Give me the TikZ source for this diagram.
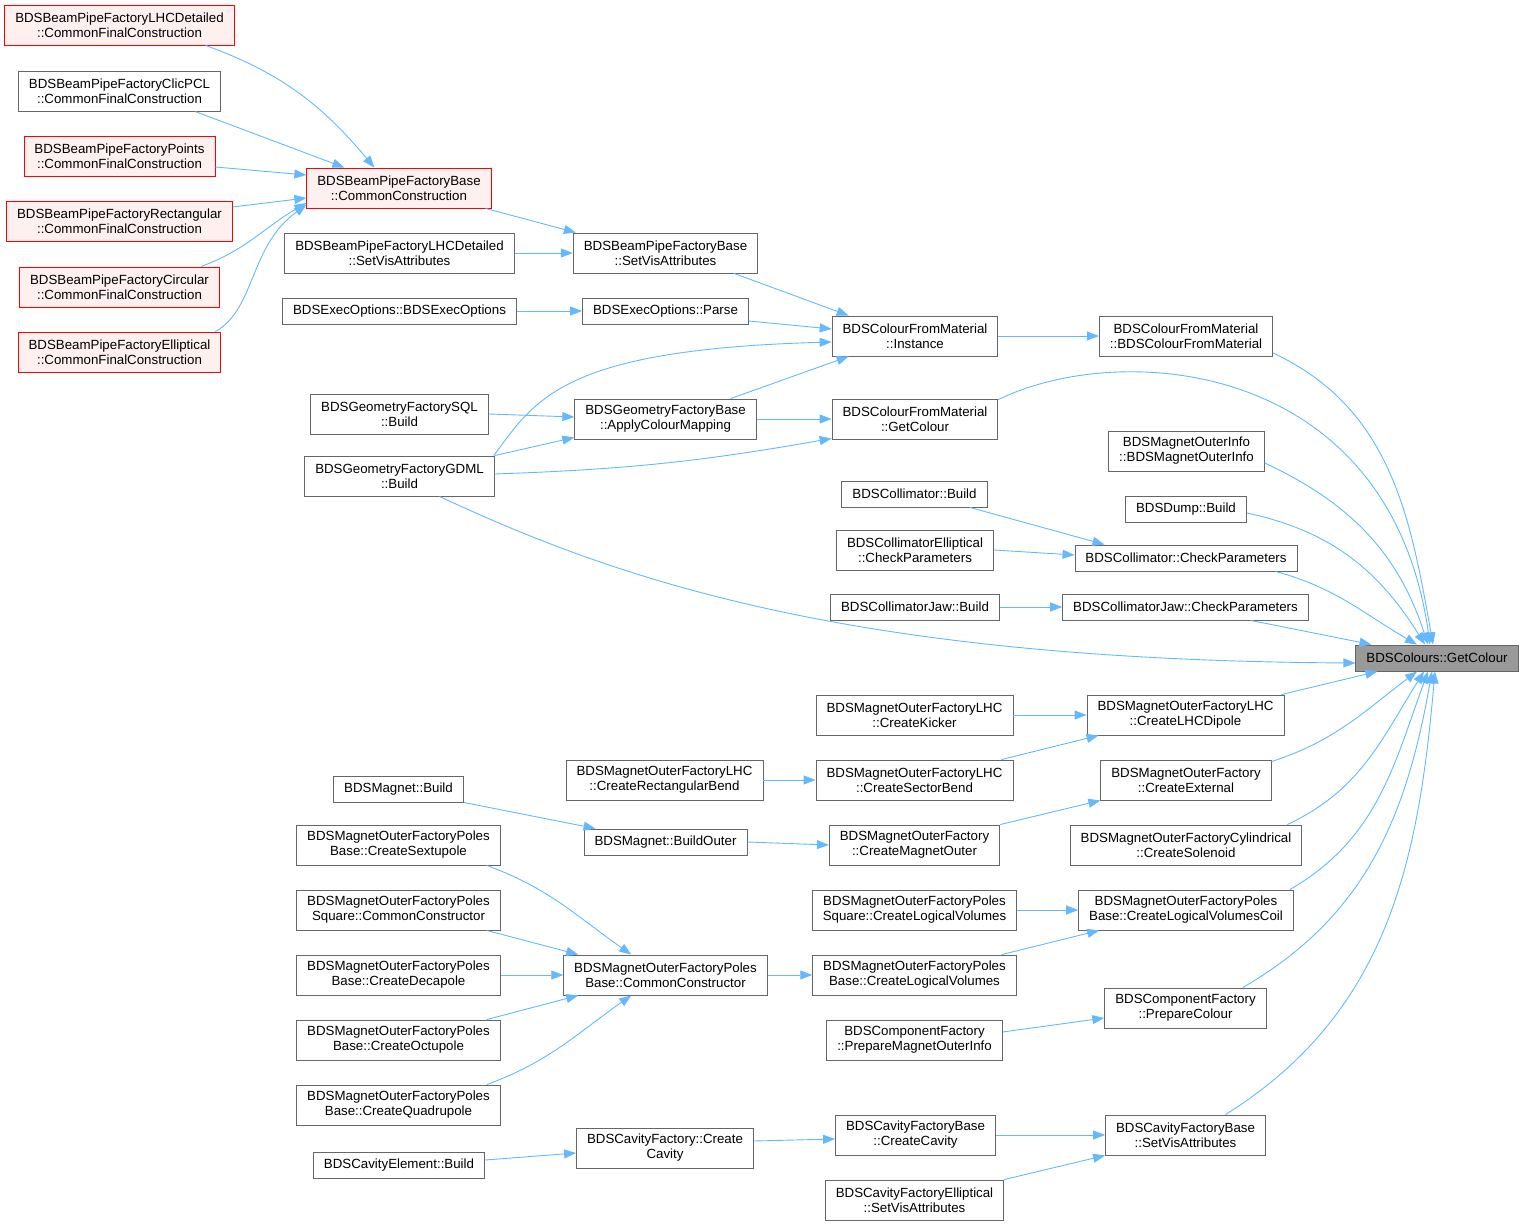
\documentclass[tikz,border=0pt]{standalone}
\usepackage{fontspec}
\setmainfont{Liberation Sans}
\usetikzlibrary{arrows.meta}
\definecolor{edgeblue}{HTML}{63B8FF}
\definecolor{boxgray}{HTML}{666666}
\definecolor{redfill}{HTML}{FFF0F0}
\definecolor{hitgray}{HTML}{999999}
\tikzset{fn/.style={draw=boxgray,fill=white,line width=0.9pt,inner xsep=10.5pt,inner ysep=2pt,minimum height=26pt,align=center,font=\fontsize{13.3}{15}\selectfont}}
\tikzset{tall/.style={minimum height=40pt}}
\tikzset{fnred/.style={fn,tall,draw=red,fill=redfill}}
\tikzset{fnhit/.style={fn,fill=hitgray}}
\begin{document}
\begin{tikzpicture}[x=1pt,y=-1pt,post/.style={-{Triangle[length=12pt,width=9pt]},draw=edgeblue,line width=0.9pt}]
    \useasboundingbox (0,0) rectangle (1524,1226);

    % beam pipe factories
    \node[fnred] (bpLHC) at (119.5,25) {BDSBeamPipeFactoryLHCDetailed\\::CommonFinalConstruction};
    \node[fn,tall] (bpClic) at (119.5,91) {BDSBeamPipeFactoryClicPCL\\::CommonFinalConstruction};
    \node[fnred] (bpPoints) at (119.5,156) {BDSBeamPipeFactoryPoints\\::CommonFinalConstruction};
    \node[fnred] (bpRect) at (119.5,221) {BDSBeamPipeFactoryRectangular\\::CommonFinalConstruction};
    \node[fnred] (bpCirc) at (119.5,287) {BDSBeamPipeFactoryCircular\\::CommonFinalConstruction};
    \node[fnred] (bpEll) at (119.5,352) {BDSBeamPipeFactoryElliptical\\::CommonFinalConstruction};
    \node[fnred] (bpCC) at (399,188) {BDSBeamPipeFactoryBase\\::CommonConstruction};
    \node[fn,tall] (bpLHCVis) at (399.5,253) {BDSBeamPipeFactoryLHCDetailed\\::SetVisAttributes};
    \node[fn,tall] (bpVis) at (665.5,253) {BDSBeamPipeFactoryBase\\::SetVisAttributes};

    % options and geometry
    \node[fn] (execCtor) at (399.5,311) {BDSExecOptions::BDSExecOptions};
    \node[fn] (execParse) at (665.5,311) {BDSExecOptions::Parse};
    \node[fn,tall] (geoSQL) at (399.5,414) {BDSGeometryFactorySQL\\::Build};
    \node[fn,tall] (geoGDML) at (399.5,476) {BDSGeometryFactoryGDML\\::Build};
    \node[fn,tall] (geoApply) at (665.5,419) {BDSGeometryFactoryBase\\::ApplyColourMapping};
    \node[fn,tall] (cfmInst) at (915,336) {BDSColourFromMaterial\\::Instance};
    \node[fn,tall] (cfmGet) at (915,419) {BDSColourFromMaterial\\::GetColour};
    \node[fn,tall] (cfmCtor) at (1186,336) {BDSColourFromMaterial\\::BDSColourFromMaterial};
    \node[fn,tall] (moInfo) at (1186.5,451) {BDSMagnetOuterInfo\\::BDSMagnetOuterInfo};
    \node[fn] (dump) at (1186,509) {BDSDump::Build};

    % collimators
    \node[fn] (collBuild) at (914.5,494) {BDSCollimator::Build};
    \node[fn,tall] (collEll) at (915,550) {BDSCollimatorElliptical\\::CheckParameters};
    \node[fn] (collCheck) at (1186,558) {BDSCollimator::CheckParameters};
    \node[fn] (jawBuild) at (915,607) {BDSCollimatorJaw::Build};
    \node[fn] (jawCheck) at (1185.5,607) {BDSCollimatorJaw::CheckParameters};

    \node[fnhit] (target) at (1437,658) {BDSColours::GetColour};

    % magnets
    \node[fn,tall] (lhcDipole) at (1185.5,715) {BDSMagnetOuterFactoryLHC\\::CreateLHCDipole};
    \node[fn,tall] (lhcKicker) at (914.5,715) {BDSMagnetOuterFactoryLHC\\::CreateKicker};
    \node[fn,tall] (lhcSector) at (914.5,780) {BDSMagnetOuterFactoryLHC\\::CreateSectorBend};
    \node[fn,tall] (lhcRect) at (664.5,780) {BDSMagnetOuterFactoryLHC\\::CreateRectangularBend};
    \node[fn,tall] (moExt) at (1186,780) {BDSMagnetOuterFactory\\::CreateExternal};
    \node[fn,tall] (moOuter) at (914.5,845) {BDSMagnetOuterFactory\\::CreateMagnetOuter};
    \node[fn] (magOuter) at (665.5,842) {BDSMagnet::BuildOuter};
    \node[fn] (magBuild) at (398.5,789) {BDSMagnet::Build};
    \node[fn,tall] (cylSol) at (1186,845) {BDSMagnetOuterFactoryCylindrical\\::CreateSolenoid};
    \node[fn,tall] (polesCoil) at (1186,910) {BDSMagnetOuterFactoryPoles\\Base::CreateLogicalVolumesCoil};
    \node[fn,tall] (sqLV) at (914.5,910) {BDSMagnetOuterFactoryPoles\\Square::CreateLogicalVolumes};
    \node[fn,tall] (polesLV) at (914.5,975) {BDSMagnetOuterFactoryPoles\\Base::CreateLogicalVolumes};
    \node[fn,tall] (polesCC) at (665.5,975) {BDSMagnetOuterFactoryPoles\\Base::CommonConstructor};
    \node[fn,tall] (polesSext) at (398.5,845) {BDSMagnetOuterFactoryPoles\\Base::CreateSextupole};
    \node[fn,tall] (sqCC) at (398.5,910) {BDSMagnetOuterFactoryPoles\\Square::CommonConstructor};
    \node[fn,tall] (polesDec) at (398.5,975) {BDSMagnetOuterFactoryPoles\\Base::CreateDecapole};
    \node[fn,tall] (polesOct) at (398.5,1040) {BDSMagnetOuterFactoryPoles\\Base::CreateOctupole};
    \node[fn,tall] (polesQuad) at (398.5,1105) {BDSMagnetOuterFactoryPoles\\Base::CreateQuadrupole};

    % component and cavity factories
    \node[fn,tall] (cfPrep) at (1185.5,1008) {BDSComponentFactory\\::PrepareColour};
    \node[fn,tall] (cfPrepInfo) at (914.5,1040) {BDSComponentFactory\\::PrepareMagnetOuterInfo};
    \node[fn,tall] (cavVis) at (1185.5,1135) {BDSCavityFactoryBase\\::SetVisAttributes};
    \node[fn,tall] (cavCreate) at (915.5,1135) {BDSCavityFactoryBase\\::CreateCavity};
    \node[fn,tall] (cavEllVis) at (914.5,1200) {BDSCavityFactoryElliptical\\::SetVisAttributes};
    \node[fn,tall] (cavFCreate) at (665,1148) {BDSCavityFactory::Create\\Cavity};
    \node[fn] (cavElBuild) at (399,1165) {BDSCavityElement::Build};

    % upper calls
    \draw[post] ([xshift=-29pt]bpLHC.south east) to[out=-20,in=130] ([xshift=68pt]bpCC.north west);
    \draw[post] ([xshift=-26pt]bpClic.south east) -- ([xshift=38pt]bpCC.north west);
    \draw[post] ([yshift=-11pt]bpPoints.east) -- ([yshift=13pt]bpCC.west);
    \draw[post] ([yshift=14pt]bpRect.east) -- ([yshift=-10pt]bpCC.west);
    \draw[post] ([xshift=-19pt]bpCirc.north east) to[out=20,in=-150] ([yshift=-15pt]bpCC.west);
    \draw[post] ([xshift=-6pt]bpEll.north east) .. controls ([xshift=34pt,yshift=22pt]bpEll.north east) and ([xshift=-57pt,yshift=-37pt]bpCC.south west) .. ([yshift=-17pt]bpCC.west);
    \draw[post] ([xshift=-6pt]bpCC.south east) -- ([xshift=3pt]bpVis.north west);
    \draw[post] (bpLHCVis) -- (bpVis);
    \draw[post] ([xshift=-24pt]bpVis.south east) -- ([xshift=17pt]cfmInst.north west);
    \draw[post] (execCtor) -- (execParse);
    \draw[post] ([yshift=-10pt]execParse.east) -- ([yshift=7pt]cfmInst.west);
    \draw[post] ([xshift=-1pt]geoGDML.north east) .. controls ([xshift=41pt,yshift=56pt]geoGDML.north east) and ([xshift=66pt,yshift=106pt]geoGDML.north east) .. ([yshift=-6pt]cfmInst.west);
    \draw[post] ([xshift=-26pt]geoApply.north east) -- ([xshift=17pt]cfmInst.south west);
    \draw[post] (geoSQL.east) -- ([yshift=2pt]geoApply.west);
    \draw[post] (geoGDML.north east) -- ([yshift=2pt]geoApply.south west);
    \draw[post] (geoApply) -- (cfmGet);
    \draw[post] ([yshift=2pt]geoGDML.east) to[out=2,in=190] ([yshift=1pt]cfmGet.south west);
    \draw[post] (cfmInst) -- (cfmCtor);

    % calls of the colour lookup
    \draw[post] ([yshift=-17pt]cfmCtor.east) to[out=-25,in=100] ([xshift=-4pt]target.north);
    \draw[post] ([yshift=-1pt]cfmGet.north east) .. controls ([xshift=123pt,yshift=59pt]cfmGet.north east) and ([xshift=-47pt,yshift=285pt]target.north) .. ([xshift=-7pt]target.north);
    \draw[post] ([yshift=-12pt]moInfo.east) to[out=-25,in=108] ([xshift=-9pt]target.north);
    \draw[post] ([yshift=-4pt]dump.east) to[out=-12,in=122] ([xshift=-12pt]target.north);
    \draw[post] ([xshift=55.5pt]collBuild.south) -- ([xshift=30pt]collCheck.north west);
    \draw[post] (collEll.east) -- ([yshift=3pt]collCheck.west);
    \draw[post] ([xshift=-22pt]collCheck.south east) to[out=-15,in=150] ([xshift=-20pt]target.north);
    \draw[post] (jawBuild) -- (jawCheck);
    \draw[post] ([xshift=-58pt]jawCheck.south east) -- ([xshift=16pt]target.north west);
    \draw[post] ([xshift=40pt]geoGDML.south) .. controls ([xshift=220pt,yshift=-84pt]geoGDML.south) and ([xshift=-506pt,yshift=-2pt]target.west) .. ([yshift=-5pt]target.west);

    % magnet calls
    \draw[post] ([xshift=-3pt]lhcDipole.north east) -- ([xshift=22pt]target.south west);
    \draw[post] (lhcKicker) -- (lhcDipole);
    \draw[post] ([xshift=-12pt]lhcSector.north east) -- ([xshift=12pt]lhcDipole.south west);
    \draw[post] (lhcRect) -- (lhcSector);
    \draw[post] ([yshift=-2pt]moExt.north east) to[out=18,in=-143] ([xshift=-20pt]target.south);
    \draw[post] (moOuter.north east) -- (moExt.south west);
    \draw[post] (magBuild.south east) -- ([xshift=12pt]magOuter.north west);
    \draw[post] (magOuter.east) -- (moOuter.west);
    \draw[post] ([xshift=-15pt]cylSol.north east) to[out=25,in=-122] ([xshift=-13pt]target.south);
    \draw[post] ([xshift=-4pt]polesCoil.north east) to[out=30,in=-110] ([xshift=-9pt]target.south);
    \draw[post] (sqLV) -- (polesCoil);
    \draw[post] ([xshift=-15pt]polesLV.north east) -- ([xshift=21pt]polesCoil.south west);
    \draw[post] (polesCC) -- (polesLV);
    \draw[post] ([xshift=-14pt]polesSext.south east) to[out=-20,in=145] ([xshift=68pt]polesCC.north west);
    \draw[post] ([xshift=-14pt]sqCC.south east) -- ([xshift=15pt]polesCC.north west);
    \draw[post] (polesDec) -- (polesCC);
    \draw[post] ([xshift=-14pt]polesOct.north east) -- ([xshift=15pt]polesCC.south west);
    \draw[post] ([xshift=-14pt]polesQuad.north east) to[out=20,in=-145] ([xshift=68pt]polesCC.south west);

    % component and cavity calls
    \draw[post] ([yshift=8pt]cfPrepInfo.east) -- ([yshift=-10pt]cfPrep.west);
    \draw[post] ([xshift=-24pt]cfPrep.north east) to[out=30,in=-100] ([xshift=-5pt]target.south);
    \draw[post] ([xshift=40pt]cavVis.north) to[out=32,in=-95] ([xshift=-2pt]target.south);
    \draw[post] (cavCreate) -- (cavVis);
    \draw[post] (cavEllVis.north east) -- (cavVis.south west);
    \draw[post] ([yshift=7pt]cavFCreate.east) -- ([yshift=-4pt]cavCreate.west);
    \draw[post] ([yshift=5pt]cavElBuild.east) -- ([yshift=-5pt]cavFCreate.west);

\end{tikzpicture}
\end{document}
